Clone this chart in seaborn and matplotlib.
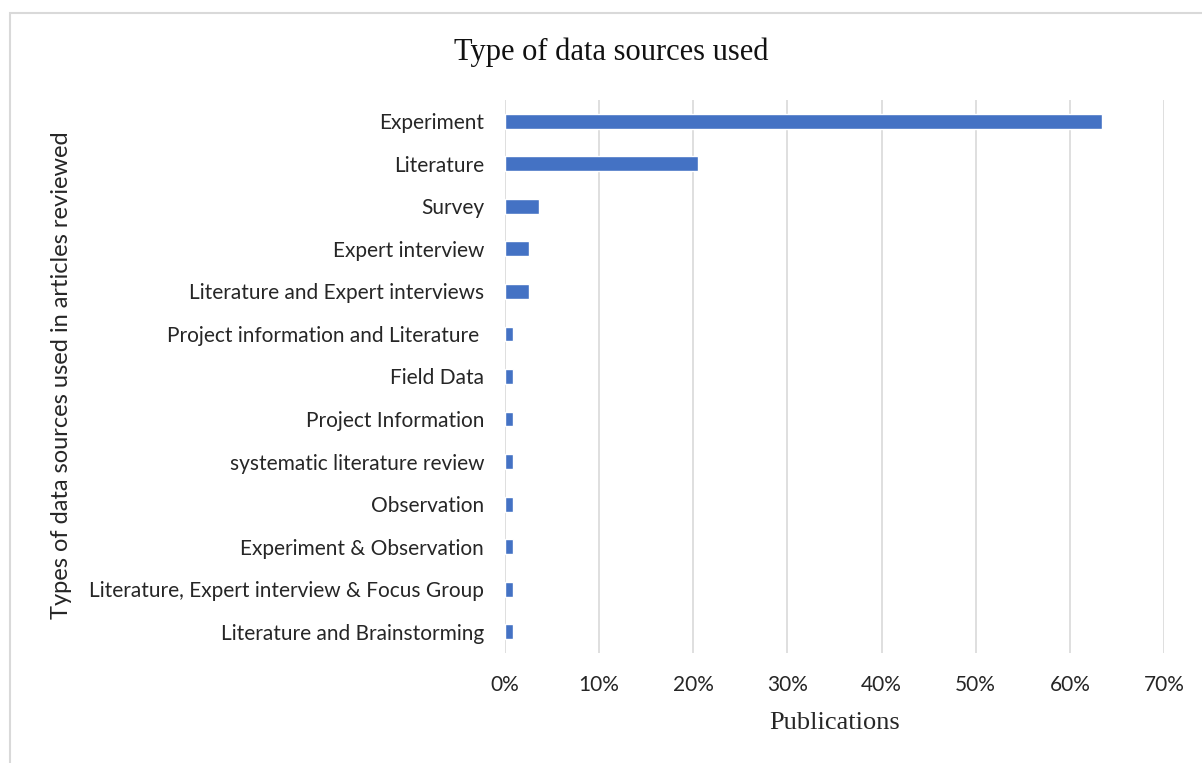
import matplotlib
matplotlib.use("Agg")
import matplotlib.pyplot as plt
import matplotlib.patches as mpatches
from matplotlib.ticker import PercentFormatter
import pandas as pd
import seaborn as sns

# Share of reviewed publications by type of data source
sources = [
    "Experiment",
    "Literature",
    "Survey",
    "Expert interview",
    "Literature and Expert interviews",
    "Project information and Literature ",
    "Field Data",
    "Project Information",
    "systematic literature review",
    "Observation",
    "Experiment & Observation",
    "Literature, Expert interview & Focus Group",
    "Literature and Brainstorming",
]
shares = [0.634, 0.205, 0.036, 0.026, 0.026, 0.0086, 0.0086, 0.0086, 0.0086,
          0.0086, 0.0086, 0.0086, 0.0086]
x_ticks = [0.0, 0.1, 0.2, 0.3, 0.4, 0.5, 0.6, 0.7]

df = pd.DataFrame({"source": sources, "share": shares})

sns.set_theme(style="white")
plt.rcParams["font.family"] = ["Lato", "DejaVu Sans"]

fig = plt.figure(figsize=(12.02, 7.63), dpi=100)
ax = fig.add_axes([505 / 1202, 1 - 653 / 763, (1164 - 505) / 1202, (653 - 100) / 763])

sns.barplot(data=df, x="share", y="source", orient="h", color="#4472C4",
            saturation=1, width=0.35, ax=ax)

ax.set_xlim(0, 0.7)
ax.set_ylim(len(sources) - 0.5, -0.5)
ax.set_xticks(x_ticks)
ax.xaxis.set_major_formatter(PercentFormatter(1.0, decimals=0))
ax.grid(axis="x", color="#d9d9d9", linewidth=1.2)
ax.set_axisbelow(True)
for s in ax.spines.values():
    s.set_visible(False)
ax.tick_params(axis="both", length=0, labelsize=15, colors="#262626")
ax.tick_params(axis="y", pad=15)
ax.tick_params(axis="x", pad=16)

ax.set_xlabel("Publications", family=["Liberation Serif", "DejaVu Serif"],
              fontsize=19, color="#262626", labelpad=12)
ax.set_ylabel("")

fig.text(62 / 1202, 1 - 375 / 763, "Types of data sources used in articles reviewed",
         rotation=90, ha="center", va="center", fontsize=17, color="#262626")
fig.text(611 / 1202, 1 - 52 / 763, "Type of data sources used",
         family=["Liberation Serif", "DejaVu Serif"], fontsize=22,
         ha="center", va="center", color="#111111")

# Chart-area frame
fig.patches.append(mpatches.Rectangle((10 / 1202, -0.01), 1.2, 1 - 13 / 763 + 0.01,
                                      transform=fig.transFigure, fill=False,
                                      edgecolor="#d9d9d9", linewidth=1.5))

fig.savefig("out.png", dpi=100, facecolor="white")
